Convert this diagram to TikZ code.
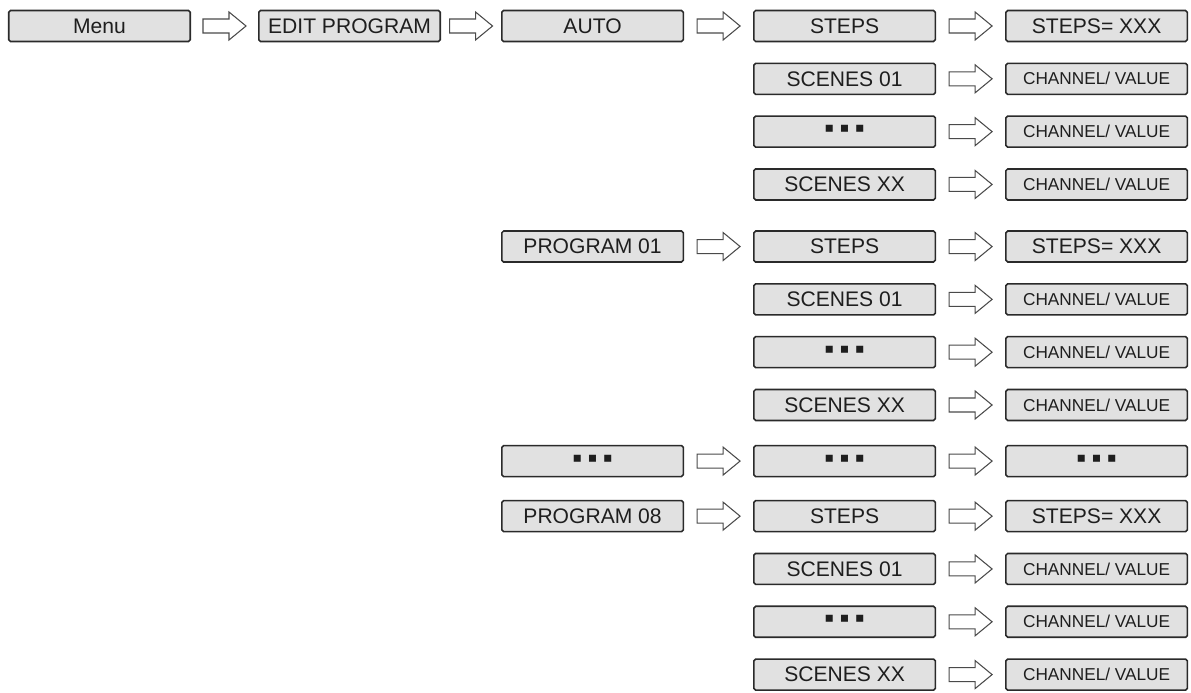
\documentclass[tikz,border=0pt]{standalone}
\usepackage{fontspec}
\setmainfont{Liberation Sans}
\usepackage{xcolor}
\usetikzlibrary{positioning, calc}
\definecolor{boxfill}{HTML}{E1E1E1}
\definecolor{boxline}{HTML}{2A2A2A}
\definecolor{arrowline}{HTML}{4A4A4A}
\definecolor{labeltext}{HTML}{1E1E1E}
\newcommand{\sqdots}{{\fontsize{16}{16}\selectfont ▪\hspace{3pt}▪\hspace{3pt}▪}}
\tikzset{
  menubox/.style={
    rectangle, rounded corners=1pt,
    draw=boxline, line width=0.9pt,
    minimum width=3.63cm, minimum height=0.62cm, inner sep=0pt,
    text=labeltext, font=\fontsize{12}{14}\selectfont,
    fill=boxfill,
  },
  valuebox/.style={menubox, font=\fontsize{9.8}{11}\selectfont},
  hollow/.style={
    draw=arrowline, fill=white, line width=0.6pt,
    to path={($(\tikztostart)!0.5!(\tikztotarget)$)
      +(-0.43cm,-0.14cm) -- +(0.09cm,-0.14cm) -- +(0.09cm,-0.28cm) -- +(0.43cm,0cm)
      -- +(0.09cm,0.28cm) -- +(0.09cm,0.14cm) -- +(-0.43cm,0.14cm) -- cycle},
  },
}

\begin{document}
\begin{tikzpicture}[x=0.02cm, y=-0.02cm, node distance=0.405cm and 1.38cm]
  \useasboundingbox (0,0) rectangle (1191,693);

  % Top row: Menu -> EDIT PROGRAM -> AUTO
  \node[menubox] (menu) at (99.5,26) {Menu};
  \node[menubox, right=1.34cm of menu] (edit) {EDIT PROGRAM};
  \node[menubox, right=1.2cm of edit] (auto) {AUTO};

  % AUTO group
  \node[menubox, right=of auto]       (asteps) {STEPS};
  \node[menubox, below=of asteps]     (ascn01) {SCENES 01};
  \node[menubox, below=of ascn01]     (adots)  {\sqdots};
  \node[menubox, below=of adots]      (ascnxx) {SCENES XX};
  \node[menubox, right=of asteps]     (astepsval) {STEPS= XXX};
  \node[valuebox, right=of ascn01]    (ascn01val) {CHANNEL/ VALUE};
  \node[valuebox, right=of adots]     (adotsval)  {CHANNEL/ VALUE};
  \node[valuebox, right=of ascnxx]    (ascnxxval) {CHANNEL/ VALUE};

  % PROGRAM 01 group
  \node[menubox, below=0.59cm of ascnxx] (p1steps) {STEPS};
  \node[menubox, left=of p1steps]     (prog01) {PROGRAM 01};
  \node[menubox, below=of p1steps]    (p1scn01) {SCENES 01};
  \node[menubox, below=of p1scn01]    (p1dots)  {\sqdots};
  \node[menubox, below=of p1dots]     (p1scnxx) {SCENES XX};
  \node[menubox, right=of p1steps]    (p1stepsval) {STEPS= XXX};
  \node[valuebox, right=of p1scn01]   (p1scn01val) {CHANNEL/ VALUE};
  \node[valuebox, right=of p1dots]    (p1dotsval)  {CHANNEL/ VALUE};
  \node[valuebox, right=of p1scnxx]   (p1scnxxval) {CHANNEL/ VALUE};

  % Further programs
  \node[menubox, below=0.47cm of p1scnxx] (pxdots) {\sqdots};
  \node[menubox, left=of pxdots]      (progxx)  {\sqdots};
  \node[menubox, right=of pxdots]     (pxdotsval) {\sqdots};

  % PROGRAM 08 group
  \node[menubox, below=0.45cm of pxdots] (p8steps) {STEPS};
  \node[menubox, left=of p8steps]     (prog08) {PROGRAM 08};
  \node[menubox, below=of p8steps]    (p8scn01) {SCENES 01};
  \node[menubox, below=of p8scn01]    (p8dots)  {\sqdots};
  \node[menubox, below=of p8dots]     (p8scnxx) {SCENES XX};
  \node[menubox, right=of p8steps]    (p8stepsval) {STEPS= XXX};
  \node[valuebox, right=of p8scn01]   (p8scn01val) {CHANNEL/ VALUE};
  \node[valuebox, right=of p8dots]    (p8dotsval)  {CHANNEL/ VALUE};
  \node[valuebox, right=of p8scnxx]   (p8scnxxval) {CHANNEL/ VALUE};

  % Menu arrows
  \draw[hollow] (menu.east) to (edit.west);
  \draw[hollow] (edit.east) to (auto.west);
  \draw[hollow] (auto.east) to (asteps.west);
  \draw[hollow] (prog01.east) to (p1steps.west);
  \draw[hollow] (progxx.east) to (pxdots.west);
  \draw[hollow] (prog08.east) to (p8steps.west);

  % Value arrows
  \draw[hollow] (asteps.east) to (astepsval.west);
  \draw[hollow] (ascn01.east) to (ascn01val.west);
  \draw[hollow] (adots.east)  to (adotsval.west);
  \draw[hollow] (ascnxx.east) to (ascnxxval.west);
  \draw[hollow] (p1steps.east) to (p1stepsval.west);
  \draw[hollow] (p1scn01.east) to (p1scn01val.west);
  \draw[hollow] (p1dots.east)  to (p1dotsval.west);
  \draw[hollow] (p1scnxx.east) to (p1scnxxval.west);
  \draw[hollow] (pxdots.east)  to (pxdotsval.west);
  \draw[hollow] (p8steps.east) to (p8stepsval.west);
  \draw[hollow] (p8scn01.east) to (p8scn01val.west);
  \draw[hollow] (p8dots.east)  to (p8dotsval.west);
  \draw[hollow] (p8scnxx.east) to (p8scnxxval.west);

\end{tikzpicture}
\end{document}
